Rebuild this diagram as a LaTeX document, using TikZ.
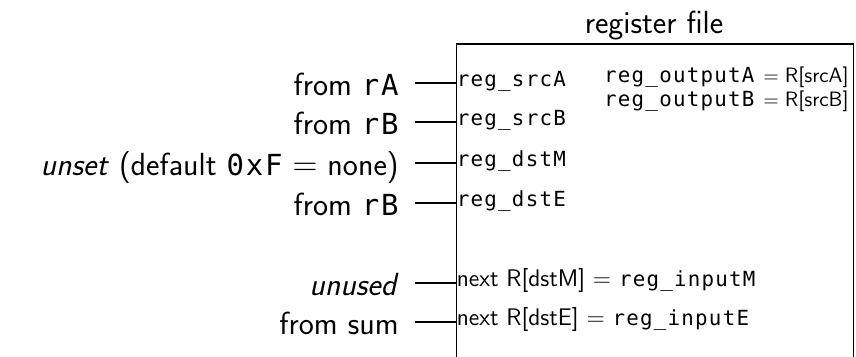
\documentclass[tikz,border=0pt]{standalone}
\usepackage{fontspec}
\renewcommand{\familydefault}{\sfdefault}
\newfontfamily\codefont{DejaVu Sans Mono}[LetterSpace=6]
% code-style text in two sizes
\newcommand{\cbig}[1]{{\codefont\fontsize{14.5}{17}\selectfont #1}}
\newcommand{\csmall}[1]{{\codefont\fontsize{10.4}{12}\selectfont #1}}
% equals sign between a register output and its source
\newcommand{\outeq}{\hspace{4.5pt}$=$\hspace{3pt}}

\tikzset{
  srclabel/.style={anchor=east, inner xsep=8pt, inner ysep=0pt,
    text height=12.7pt, text depth=0pt, font=\fontsize{16}{19}\selectfont},
  portlabel/.style={anchor=west, inner xsep=0.5pt, inner ysep=0pt,
    text height=3.6pt, text depth=0pt, font=\fontsize{12}{14}\selectfont},
  outlabel/.style={anchor=base east, inner sep=0pt, font=\fontsize{10.4}{12}\selectfont},
  wire/.style={line width=1pt},
  regbox/.style={draw, line width=0.6pt, inner sep=0pt},
}

\begin{document}
\begin{tikzpicture}[x=0.5pt, y=-0.5pt]
  \useasboundingbox (0,0) rectangle (856,357);
  \clip (0,0) rectangle (856,357);

  % register file block (its lower edge lies below the frame)
  \node (rf) [regbox, anchor=north west, minimum width=198.5pt, minimum height=220pt]
    at (455.5,43.5) {};
  \node (title) [anchor=base, inner sep=0pt, font=\fontsize{16}{19}\selectfont]
    at (654,33.3) {register file};

  % input ports on the left edge of the block
  \node (p1) [portlabel] at (455.5,83.3)  {\csmall{reg\_srcA}};
  \node (p2) [portlabel] at (455.5,122.3) {\csmall{reg\_srcB}};
  \node (p3) [portlabel] at (455.5,162.7) {\csmall{reg\_dstM}};
  \node (p4) [portlabel] at (455.5,202.7) {\csmall{reg\_dstE}};
  \node (p5) [portlabel] at (455.5,283.3) {next R[dstM] $=$ \csmall{reg\_inputM}};
  \node (p6) [portlabel] at (455.5,322.3) {next R[dstE] $=$ \csmall{reg\_inputE}};

  % outputs
  \node (o1) [outlabel] at (849,82.7)  {\csmall{reg\_outputA}\outeq R[srcA]};
  \node (o2) [outlabel] at (849,106.7) {\csmall{reg\_outputB}\outeq R[srcB]};

  % where each input comes from
  \node (s1) [srclabel] at (415,83.3)  {from \cbig{rA}};
  \node (s2) [srclabel] at (415,122.3) {from \cbig{rB}};
  \node (s3) [srclabel] at (415,162.7) {\textit{unset} (default \cbig{0xF} $=$ none)};
  \node (s4) [srclabel] at (415,202.7) {from \cbig{rB}};
  \node (s5) [srclabel] at (415,283.3) {\textit{unused}};
  \node (s6) [srclabel] at (415,322.3) {from sum};

  \foreach \i in {1,...,6} \draw[wire] (s\i.east) -- (p\i.west);
\end{tikzpicture}
\end{document}
